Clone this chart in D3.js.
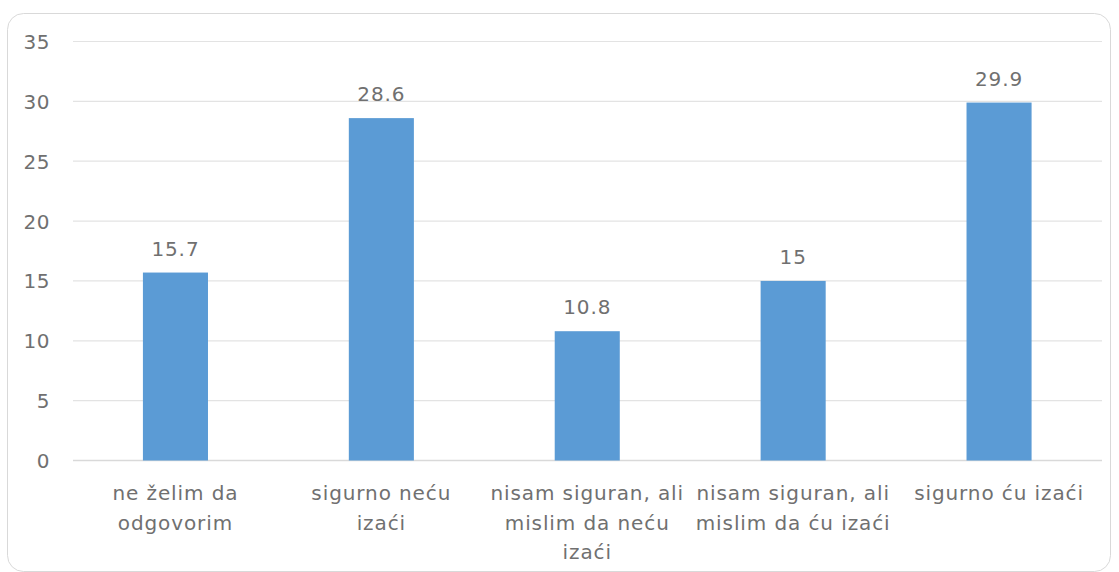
<!DOCTYPE html>
<html><head><meta charset="utf-8">
<script src="https://cdn.jsdelivr.net/npm/d3@7"></script>
<style>body{margin:0;background:#fff}svg{display:block}text{font-family:"DejaVu Sans",sans-serif;letter-spacing:0.9px}</style>
</head><body>
<script>
const categories = ["ne želim da odgovorim","sigurno neću izaći","nisam siguran, ali mislim da neću izaći","nisam siguran, ali mislim da ću izaći","sigurno ću izaći"];
const categoryLines = [["ne želim da","odgovorim"],["sigurno neću","izaći"],["nisam siguran, ali","mislim da neću","izaći"],["nisam siguran, ali","mislim da ću izaći"],["sigurno ću izaći"]];
const values = [15.7, 28.6, 10.8, 15, 29.9];
const yTicks = [0,5,10,15,20,25,30,35];

const W=1119,H=572;
const svg=d3.select("body").append("svg").attr("width",W).attr("height",H);
svg.append("rect").attr("x",7.5).attr("y",13.5).attr("width",1103).attr("height",558).attr("rx",16)
  .attr("fill","#fff").attr("stroke","#d9d9d9").attr("stroke-width",1);

const x=d3.scaleBand().domain(categories).range([72.5,1102]).padding(0);
const y=d3.scaleLinear().domain([0,35]).range([460.5,41.5]);
const grey="#707070";
const fs="20px";

const g=svg.append("g");
g.selectAll("line.grid").data(yTicks).join("line").attr("class","grid")
  .attr("x1",73).attr("x2",1102).attr("y1",d=>y(d)).attr("y2",d=>y(d))
  .attr("stroke",d=>d===0?"#d9d9d9":"#e3e3e3").attr("stroke-width",d=>d===0?1.5:1.2);

const yAxis=d3.axisLeft(y).tickValues(yTicks).tickSize(0).tickPadding(0);
const ya=svg.append("g").attr("transform","translate(50,0)").call(yAxis);
ya.select(".domain").remove();
ya.selectAll("text").attr("fill",grey).style("font-size",fs).style("font-family","DejaVu Sans").style("letter-spacing","0.5px").attr("dy","0.35em");

const bw=x.bandwidth()*0.316;
g.selectAll("rect.bar").data(values).join("rect").attr("class","bar")
  .attr("x",(d,i)=>x(categories[i])+x.bandwidth()/2-bw/2).attr("width",bw)
  .attr("y",d=>y(d)).attr("height",d=>y(0)-y(d)).attr("fill","#5b9bd5");

g.selectAll("text.val").data(values).join("text").attr("class","val")
  .attr("x",(d,i)=>x(categories[i])+x.bandwidth()/2).attr("y",d=>y(d)-17)
  .attr("text-anchor","middle").attr("fill",grey).style("font-size",fs).text(d=>d);

const lab=g.selectAll("text.cat").data(categoryLines).join("text").attr("class","cat")
  .attr("text-anchor","middle").attr("fill",grey).style("font-size",fs);
lab.each(function(lines,i){
  const cx=x(categories[i])+x.bandwidth()/2;
  d3.select(this).selectAll("tspan").data(lines).join("tspan")
    .attr("x",cx).attr("y",(l,j)=>500+j*29.5).text(l=>l);
});
</script>
</body></html>
